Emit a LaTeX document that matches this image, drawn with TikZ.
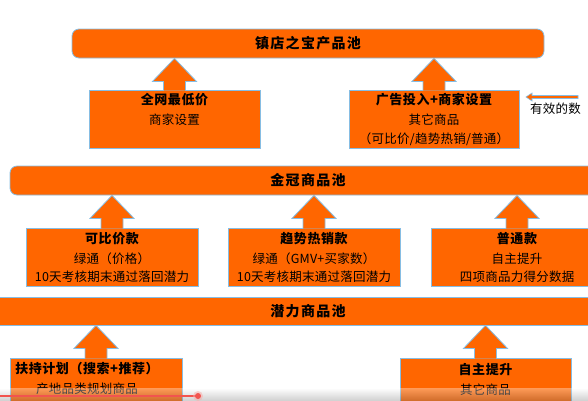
\documentclass[tikz,border=0pt]{standalone}
\usepackage{fontspec}
\setmainfont{Noto Sans CJK SC}
\usetikzlibrary{positioning,calc}

\definecolor{pool}{HTML}{FF6600}
\definecolor{edge}{HTML}{86BDE3}
\definecolor{barred}{HTML}{F2544F}
\newcommand{\hd}{\bfseries\fontsize{13}{15}\selectfont\addfontfeature{LetterSpace=4}}

% block arrow from the top of a box up to the bottom of a pool
\newcommand{\blockup}[2]{%
  \filldraw[up_arrow] let \p1=(#1.north), \p2=(#2.south) in
    (\x1-11,\y1-1) -- (\x1-11,\y2-23) -- (\x1-22,\y2-23) -- (\x1,\y2)
    -- (\x1+22,\y2-23) -- (\x1+11,\y2-23) -- (\x1+11,\y1-1);}

\begin{document}
\begin{tikzpicture}[x=1pt,y=-1pt,
  pool_node/.style={draw=edge,fill=pool,line width=0.8pt,rounded corners=7pt,minimum height=29pt,inner sep=0pt,font=\bfseries\fontsize{14}{16}\selectfont\addfontfeature{LetterSpace=9}},
  box_node/.style={draw=edge,fill=pool,line width=0.8pt,minimum height=58pt,inner sep=0pt},
  box_text/.style={align=center,inner sep=0pt,font=\fontsize{12.5}{18.5}\selectfont\addfontfeature{LetterSpace=2}},
  up_arrow/.style={draw=edge,fill=pool,line width=0.8pt,line join=miter}]

    \useasboundingbox (0,0) rectangle (588,400);
    \clip (0,0) rectangle (588,400);

	\node[pool_node, minimum width=472pt] (1) at (308,43.5) {镇店之宝产品池};
    \node[box_node, minimum width=171pt] (2) at (174.5,119) {};
    \node[box_node, minimum width=170pt] (3) at (434,119) {};

    \node[pool_node, minimum width=596pt] (4) at (308,180.5) {金冠商品池};
    \node[box_node, minimum width=172pt] (5) at (112,257) {};
    \node[box_node, minimum width=172pt] (6) at (314,257) {};
    \node[box_node, minimum width=172pt] (7) at (517,257) {};

    \node[pool_node, rounded corners=0pt, minimum width=640pt, minimum height=28pt] (8) at (308,311) {潜力商品池};
    \node[box_node, minimum width=172pt] (9) at (96,387) {};
    \node[box_node, minimum width=171pt] (10) at (485.5,387) {};

    \node[box_text, below=3.5pt of 2.north] {{\hd 全网最低价}\\[1.5pt]商家设置};
    \node[box_text, below=3.5pt of 3.north] {{\hd 广告投入+商家设置}\\[1.5pt]其它商品\\（可比价/趋势热销/普通）};
    \node[box_text, below=4.5pt of 5.north] {{\hd 可比价款}\\[1.5pt]绿通（价格）\\10天考核期末通过落回潜力};
    \node[box_text, below=4.5pt of 6.north] {{\hd 趋势热销款}\\[1.5pt]绿通（GMV+买家数）\\10天考核期末通过落回潜力};
    \node[box_text, below=4.5pt of 7.north] {{\hd 普通款}\\[1.5pt]自主提升\\四项商品力得分数据};
    \node[box_text, below=4.5pt of 9.north, xshift=-9pt] {{\hd 扶持计划（搜索+推荐）}\\[1.5pt]产地品类规划商品};
    \node[box_text, below=6pt of 10.north] {{\hd 自主提升}\\[1.5pt]其它商品};

    \blockup{2}{1}
    \blockup{3}{1}
    \blockup{5}{4}
    \blockup{6}{4}
    \blockup{7}{4}
    \blockup{9}{8}
    \blockup{10}{8}

    \coordinate (11) at (578,97);
    \coordinate (12) at (526,97);
    \filldraw[up_arrow, line width=0.6pt] let \p1=(11), \p2=(12) in
      (\x1,\y1+1.5) -- (\x2+6,\y1+1.5) -- (\x2+6,\y1+4) -- (\p2)
      -- (\x2+6,\y1-4) -- (\x2+6,\y1-1.5) -- (\x1,\y1-1.5) -- cycle;
    \node[box_text, anchor=west] (13) at (530,109) {有效的数};

    \shade[top color=white, bottom color=black!50, opacity=0.35] (0,388) rectangle (588,400);
    \draw[barred, line width=1.5pt] (0,396) -- (198,396);
    \fill[barred!50, opacity=0.5] (198,396) circle (5pt);
    \fill[barred] (198,396) circle (3pt);
\end{tikzpicture}
\end{document}
